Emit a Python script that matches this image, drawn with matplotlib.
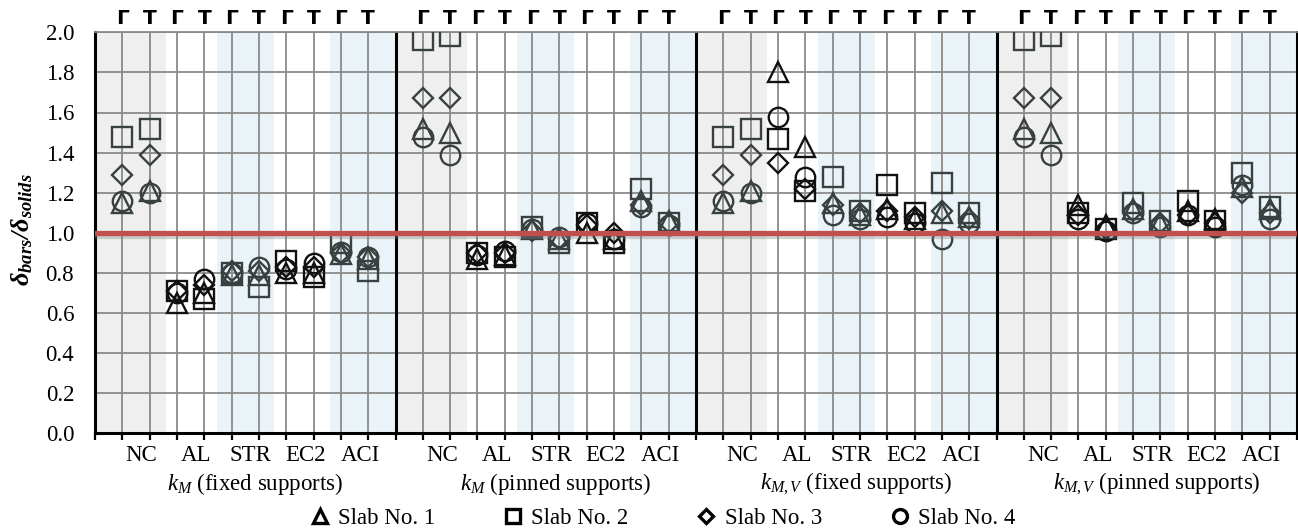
import numpy as np
import matplotlib
matplotlib.use('Agg')
import matplotlib.pyplot as plt
from matplotlib.lines import Line2D
import matplotlib.patheffects as pe

plt.rcParams['font.family'] = 'Liberation Serif'
plt.rcParams['mathtext.fontset'] = 'custom'
plt.rcParams['mathtext.rm'] = 'Liberation Serif'
plt.rcParams['mathtext.it'] = 'Liberation Serif:italic'
plt.rcParams['mathtext.bf'] = 'Liberation Serif:bold:italic'

# data
categories = ['NC', 'AL', 'STR', 'EC2', 'ACI']
shapes = ['Γ', 'T']
panel_titles = [r'$k_M$ (fixed supports)', r'$k_M$ (pinned supports)',
                r'$k_{M,V}$ (fixed supports)', r'$k_{M,V}$ (pinned supports)']
slab_names = ['Slab No. 1', 'Slab No. 2', 'Slab No. 3', 'Slab No. 4']

# each row = one slab, values ordered NC-Γ, NC-T, AL-Γ, AL-T, STR-Γ, STR-T, EC2-Γ, EC2-T, ACI-Γ, ACI-T
km_fixed = [
    [1.15, 1.21, 0.65, 0.70, 0.79, 0.79, 0.80, 0.80, 0.895, 0.87],
    [1.48, 1.52, 0.71, 0.67, 0.80, 0.73, 0.86, 0.78, 0.95, 0.81],
    [1.29, 1.39, 0.71, 0.74, 0.81, 0.81, 0.83, 0.83, 0.90, 0.88],
    [1.16, 1.20, 0.70, 0.77, 0.80, 0.83, 0.82, 0.85, 0.905, 0.88],
]
km_pinned = [
    [1.52, 1.50, 0.87, 0.89, 1.02, 0.97, 1.00, 0.97, 1.16, 1.06],
    [1.96, 1.98, 0.90, 0.88, 1.03, 0.95, 1.05, 0.95, 1.22, 1.05],
    [1.67, 1.67, 0.90, 0.90, 1.01, 0.97, 1.04, 1.00, 1.14, 1.05],
    [1.48, 1.39, 0.89, 0.91, 1.02, 0.98, 1.05, 0.97, 1.13, 1.04],
]
kmv_fixed = [
    [1.15, 1.21, 1.80, 1.43, 1.15, 1.09, 1.12, 1.07, 1.10, 1.08],
    [1.48, 1.52, 1.47, 1.21, 1.28, 1.11, 1.24, 1.10, 1.25, 1.10],
    [1.29, 1.39, 1.35, 1.22, 1.14, 1.10, 1.11, 1.08, 1.11, 1.07],
    [1.16, 1.20, 1.58, 1.28, 1.09, 1.07, 1.08, 1.05, 0.97, 1.05],
]
kmv_pinned = [
    [1.52, 1.50, 1.14, 1.04, 1.12, 1.05, 1.11, 1.07, 1.23, 1.12],
    [1.96, 1.98, 1.10, 1.02, 1.15, 1.06, 1.16, 1.06, 1.30, 1.13],
    [1.67, 1.67, 1.09, 1.02, 1.11, 1.05, 1.09, 1.05, 1.20, 1.10],
    [1.48, 1.39, 1.07, 1.01, 1.10, 1.03, 1.09, 1.03, 1.24, 1.07],
]
panels = [km_fixed, km_pinned, kmv_fixed, kmv_pinned]

markers = ['^', 's', 'D', 'o']
msizes = [14.5, 14, 9.8, 14]
GRAY_BG = '#efefef'
BLUE_BG = '#eaf3f7'
DARK = '#394040'
BLACK = '#111111'
FS = 16.5

fig, ax = plt.subplots(figsize=(12.98, 5.30), dpi=100)
fig.subplots_adjust(left=95/1298, right=1297/1298, top=1-32.3/530, bottom=1-433.3/530)

n_per = 11
for k, panel in enumerate(panels):
    off = k * n_per
    ax.axvspan(off, off + 2.6, color=GRAY_BG, lw=0, zorder=0)
    ax.axvspan(off + 4.45, off + 6.55, color=BLUE_BG, lw=0, zorder=0)
    ax.axvspan(off + 8.6, off + 11, color=BLUE_BG, lw=0, zorder=0)
    x = off + np.arange(1, 11)
    for s, vals in enumerate(panel):
        vals = np.array(vals)
        for g in range(len(categories)):
            col = DARK if g % 2 == 0 else BLACK
            ax.plot(x[2*g:2*g+2], vals[2*g:2*g+2], ls='none', marker=markers[s],
                    ms=msizes[s], mfc='none', mec=col, mew=1.7, zorder=3)
    for g, cat in enumerate(categories):
        ax.text(off + 2*g + 1.7, -0.113, cat, ha='center', va='center', fontsize=FS)
    for i, xi in enumerate(x):
        ax.text(xi, 2.068, shapes[i % 2], ha='center', va='center', fontsize=14.5,
                family='DejaVu Sans', fontweight='bold', clip_on=False)
    ax.text(off + 5.85, -0.253, panel_titles[k], ha='center', va='center', fontsize=FS)
    if k > 0:
        ax.axvline(off, color='black', lw=2.2, zorder=2.5)

ax.axhline(1.0, color='#c0504d', lw=3.8, zorder=4,
           path_effects=[pe.SimpleLineShadow(offset=(0, -2), shadow_color='gray', alpha=0.35), pe.Normal()])

ax.set_xlim(0, 44)
ax.set_ylim(0, 2.0)
ax.set_xticks(np.arange(0, 45))
ax.set_xticklabels([])
ax.set_yticks(np.arange(0, 2.01, 0.2))
ax.set_yticklabels(['%.1f' % v for v in np.arange(0, 2.01, 0.2)], fontsize=FS)
ax.tick_params(axis='y', length=0, pad=15)
ax.tick_params(axis='x', direction='out', length=5, width=1.6, color='black')
ax.grid(True, color='#8a8a8a', lw=1.3)
for side in ['left', 'bottom', 'right']:
    ax.spines[side].set_linewidth(2.2)
    ax.spines[side].set_color('black')
ax.spines['top'].set_color('#8a8a8a')
ax.spines['top'].set_linewidth(1.3)

fig.text(22/1298, 1 - 230/530, r'$\mathbf{\delta_{bars}/\delta_{solids}}$', rotation=90,
         ha='center', va='center', fontsize=19)

handles = [Line2D([], [], ls='none', marker=m, ms=ms, mfc='none', mec='black', mew=2.4)
           for m, ms in zip(markers, [10, 10, 7, 10])]
fig.legend(handles, slab_names, loc='center', bbox_to_anchor=(663/1298, 1 - 518/530),
           ncol=4, frameon=False, fontsize=FS, handlelength=0.8, handletextpad=0.4,
           columnspacing=3.0)

fig.savefig('out.png', dpi=100)
